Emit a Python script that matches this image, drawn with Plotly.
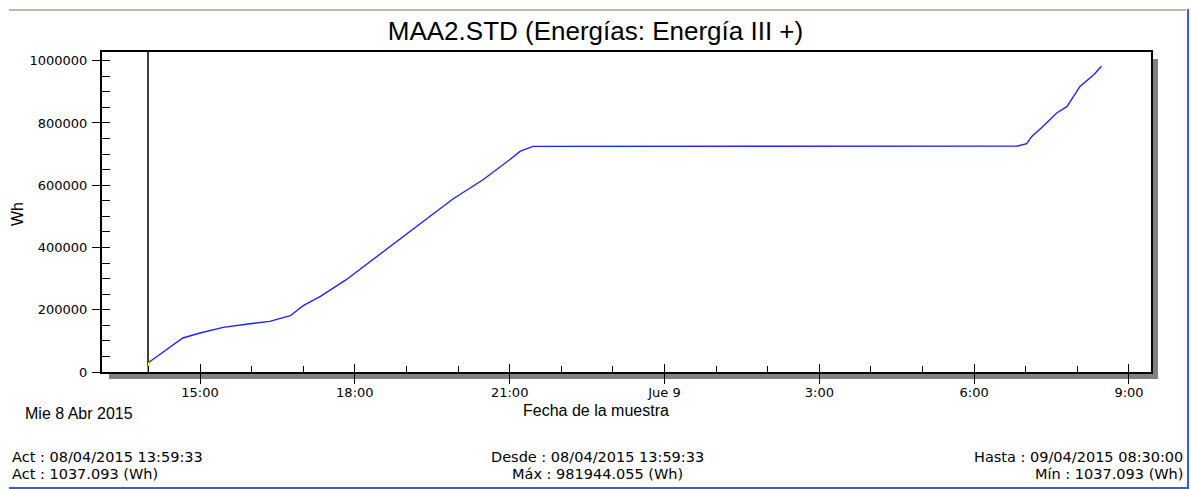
import plotly.graph_objects as go

# ---------------- data ----------------
times = [
    "2015-04-08 13:59:33", "2015-04-08 14:00:40", "2015-04-08 14:40:00",
    "2015-04-08 15:00:00", "2015-04-08 15:27:00", "2015-04-08 15:58:00",
    "2015-04-08 16:21:00", "2015-04-08 16:45:00", "2015-04-08 17:00:00",
    "2015-04-08 17:20:00", "2015-04-08 17:50:00", "2015-04-08 19:54:00",
    "2015-04-08 20:29:00", "2015-04-08 21:00:00", "2015-04-08 21:12:00",
    "2015-04-08 21:27:00", "2015-04-09 06:51:00", "2015-04-09 07:01:00",
    "2015-04-09 07:07:00", "2015-04-09 07:18:00", "2015-04-09 07:36:00",
    "2015-04-09 07:48:00", "2015-04-09 08:03:00", "2015-04-09 08:19:00",
    "2015-04-09 08:28:00",
]
energy_wh = [
    1037.093, 31200, 109200,
    125300, 143300, 155200,
    162600, 180900, 213000,
    242900, 296500, 555700,
    617700, 682000, 708600,
    724700, 726000, 733400,
    756800, 783800, 832000,
    853200, 917400, 955000,
    981944.055,
]

x_tick_vals = ["2015-04-08 15:00", "2015-04-08 18:00", "2015-04-08 21:00",
               "2015-04-09 00:00", "2015-04-09 03:00", "2015-04-09 06:00",
               "2015-04-09 09:00"]
x_tick_text = ["15:00", "18:00", "21:00", "Jue 9", "3:00", "6:00", "9:00"]
y_tick_vals = [0, 200000, 400000, 600000, 800000, 1000000]
y_tick_text = ["0", "200000", "400000", "600000", "800000", "1000000"]
x_range = ["2015-04-08 13:06:04", "2015-04-09 09:25:35"]
y_range = [0, 1028000]

title_text = "MAA2.STD (Energías: Energía III +)"
footer_left = ["Act : 08/04/2015 13:59:33", "Act : 1037.093 (Wh)"]
footer_mid = ["Desde : 08/04/2015 13:59:33", "Máx : 981944.055 (Wh)"]
footer_right = ["Hasta : 09/04/2015 08:30:00", "Mín : 1037.093 (Wh)"]

# ---------------- layout geometry (pixels) ----------------
W_FIG, H_FIG = 1191, 489
L, R, T, B = 102, 40, 52, 117
PW, PH = W_FIG - L - R, H_FIG - T - B
PB = H_FIG - B


def px_x(px):
    return (px - L) / PW


def px_y(py):
    return (PB - py) / PH


SANS = "Liberation Sans, Arial, sans-serif"
SMALL = "DejaVu Sans, Verdana, sans-serif"

fig = go.Figure()

# yellow first segment
fig.add_trace(go.Scatter(x=times[:2], y=energy_wh[:2], mode="lines",
                         line=dict(color="#ffff00", width=1.8),
                         hoverinfo="skip"))
# main series
fig.add_trace(go.Scatter(x=times[1:], y=energy_wh[1:], mode="lines",
                         line=dict(color="#2222ff", width=1.4),
                         name="Energía III +"))
# invisible trace for overlay axes (inside half of crossing ticks)
fig.add_trace(go.Scatter(x=times[:1], y=energy_wh[:1], xaxis="x2", yaxis="y2",
                         mode="markers", marker=dict(opacity=0),
                         hoverinfo="skip"))

axis_common = dict(showgrid=False, zeroline=False, tickcolor="black",
                   tickwidth=1)

fig.update_layout(
    width=W_FIG, height=H_FIG,
    margin=dict(l=L, r=R, t=T, b=B, pad=0),
    paper_bgcolor="white", plot_bgcolor="white",
    showlegend=False,
    title=dict(text=title_text, x=0.5, xanchor="center",
               y=1 - 31 / H_FIG, yref="container", yanchor="middle",
               font=dict(family=SANS, size=26, color="black")),
    xaxis=dict(type="date", range=x_range, tickmode="array",
               tickvals=x_tick_vals, ticktext=x_tick_text,
               ticks="outside", ticklen=10, ticklabelstandoff=-3,
               showline=True, linewidth=2, linecolor="black", mirror=True,
               tickfont=dict(family=SMALL, size=13, color="black"),
               minor=dict(ticks="inside", ticklen=6, dtick=3600000,
                          tick0="2015-04-08 00:00", tickcolor="black",
                          showgrid=False),
               **axis_common),
    yaxis=dict(range=y_range, tickmode="array", tickvals=y_tick_vals,
               ticktext=y_tick_text, ticks="outside", ticklen=8,
               ticklabelstandoff=2,
               showline=True, linewidth=2, linecolor="black", mirror=True,
               tickfont=dict(family=SMALL, size=13, color="black"),
               minor=dict(ticks="inside", ticklen=8, dtick=50000, tick0=0,
                          tickcolor="black", showgrid=False),
               **axis_common),
    xaxis2=dict(type="date", range=x_range, overlaying="x", anchor="y",
                side="bottom", tickmode="array", tickvals=x_tick_vals,
                ticks="inside", ticklen=8, showticklabels=False,
                showline=False, **axis_common),
    yaxis2=dict(range=y_range, overlaying="y", anchor="x", side="left",
                tickmode="array", tickvals=y_tick_vals, ticks="inside",
                ticklen=8, showticklabels=False, showline=False,
                **axis_common),
)

shapes = [
    # shadow of the plot frame
    dict(type="rect", xref="paper", yref="paper", x0=1, x1=px_x(1158),
         y0=px_y(379), y1=px_y(59), fillcolor="#808080", line_width=0,
         layer="below"),
    dict(type="rect", xref="paper", yref="paper", x0=px_x(109), x1=px_x(1158),
         y0=px_y(379), y1=0, fillcolor="#808080", line_width=0,
         layer="below"),
    # cursor at start of data
    dict(type="line", xref="x", yref="y domain", x0=times[0], x1=times[0],
         y0=0, y1=1, line=dict(color="black", width=1.5), layer="below"),
    # window frame lines
    dict(type="line", xref="paper", yref="paper", x0=px_x(9), x1=px_x(1186),
         y0=px_y(10), y1=px_y(10), line=dict(color="#bdb9ad", width=2)),
    dict(type="line", xref="paper", yref="paper", x0=px_x(1188), x1=px_x(1188),
         y0=px_y(9), y1=px_y(489), line=dict(color="#2b63e6", width=2)),
    dict(type="line", xref="paper", yref="paper", x0=px_x(9), x1=px_x(1189),
         y0=px_y(488), y1=px_y(488), line=dict(color="#2b63e6", width=2)),
]
fig.update_layout(shapes=shapes)

ann = [
    dict(text="Wh", x=px_x(17), y=px_y(214), textangle=-90,
         font=dict(family=SANS, size=16)),
    dict(text="Fecha de la muestra", x=px_x(596), y=px_y(410),
         font=dict(family=SANS, size=16)),
    dict(text="Mie 8 Abr 2015", x=px_x(79), y=px_y(413),
         font=dict(family=SANS, size=16)),
]
row_y = [457, 474]
for i in range(2):
    ann.append(dict(text=footer_left[i], x=px_x(10), y=px_y(row_y[i]),
                    xanchor="left", font=dict(family=SMALL, size=14.5)))
    ann.append(dict(text=footer_mid[i], x=px_x(597), y=px_y(row_y[i]),
                    xanchor="center", font=dict(family=SMALL, size=14.5)))
    ann.append(dict(text=footer_right[i], x=px_x(1185), y=px_y(row_y[i]),
                    xanchor="right", font=dict(family=SMALL, size=14.5)))
for a in ann:
    a.setdefault("xanchor", "center")
    a.update(xref="paper", yref="paper", yanchor="middle", showarrow=False)
    a["font"].setdefault("color", "black")
fig.update_layout(annotations=ann)

fig.write_html("out.html",
               config={"displayModeBar": False},
               post_script="document.body.style.margin='0px';")
